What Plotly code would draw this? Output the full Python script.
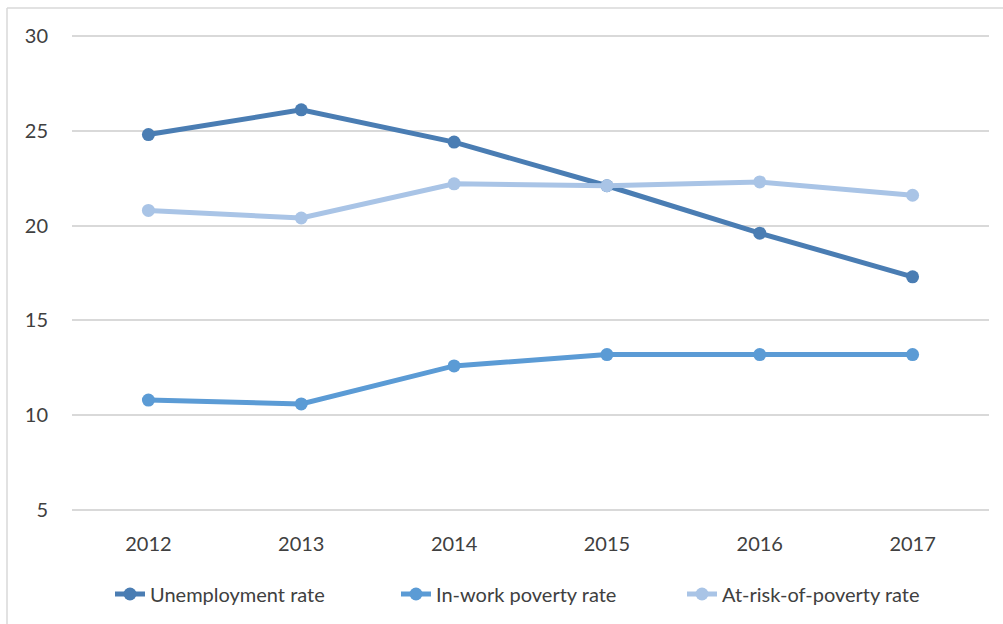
import plotly.graph_objects as go

years = ["2012", "2013", "2014", "2015", "2016", "2017"]
unemployment = [24.8, 26.1, 24.4, 22.1, 19.6, 17.3]
in_work_poverty = [10.8, 10.6, 12.6, 13.2, 13.2, 13.2]
at_risk_poverty = [20.8, 20.4, 22.2, 22.1, 22.3, 21.6]
y_ticks = [5, 10, 15, 20, 25, 30]

W, H = 1003, 624
L, R, T, B = 72, 14, 34, 112
pw, ph = W - L - R, H - T - B

fig = go.Figure()
series = [
    ("Unemployment rate", unemployment, "#4a7db3"),
    ("In-work poverty rate", in_work_poverty, "#5b9bd5"),
    ("At-risk-of-poverty rate", at_risk_poverty, "#a9c4e6"),
]
for name, vals, col in series:
    fig.add_trace(go.Scatter(
        x=years, y=vals, name=name, mode="lines+markers",
        line=dict(color=col, width=5),
        marker=dict(color=col, size=13),
    ))

font = "Lato, 'Open Sans', sans-serif"
fig.update_layout(
    width=W, height=H,
    margin=dict(l=L, r=R, t=T, b=B, autoexpand=False),
    paper_bgcolor="white", plot_bgcolor="white",
    font=dict(family=font, size=20, color="#404040"),
    xaxis=dict(type="category", range=[-0.5, 5.5], showgrid=False,
               showline=False, ticks="", ticklabelstandoff=18,
               tickfont=dict(size=20, color="#404040")),
    yaxis=dict(range=[4.9, 30.1], tickvals=y_ticks, showgrid=True, gridcolor="#d9d9d9",
               gridwidth=1.5, zeroline=False, showline=False, ticks="",
               ticklabelstandoff=23, tickfont=dict(size=20, color="#404040")),
    legend=dict(orientation="h", x=(110 - L) / pw, xanchor="left", y=-(594 - 512) / ph,
                yanchor="middle", font=dict(size=20, color="#404040"),
                entrywidth=241, entrywidthmode="pixels"),
    showlegend=True,
)

# light chart border (left and top)
fig.add_shape(type="line", xref="paper", yref="paper",
              x0=(7 - L) / pw, x1=(7 - L) / pw, y0=1 + (T - 8) / ph, y1=-(B + 20) / ph,
              line=dict(color="#d9d9d9", width=1.5))
fig.add_shape(type="line", xref="paper", yref="paper",
              x0=(7 - L) / pw, x1=(W + 10 - L) / pw, y0=1 + (T - 8) / ph, y1=1 + (T - 8) / ph,
              line=dict(color="#d9d9d9", width=1.5))

fig.write_html("out.html", config={"displayModeBar": False},
               post_script="document.body.style.margin='0';document.body.style.overflow='hidden';")
